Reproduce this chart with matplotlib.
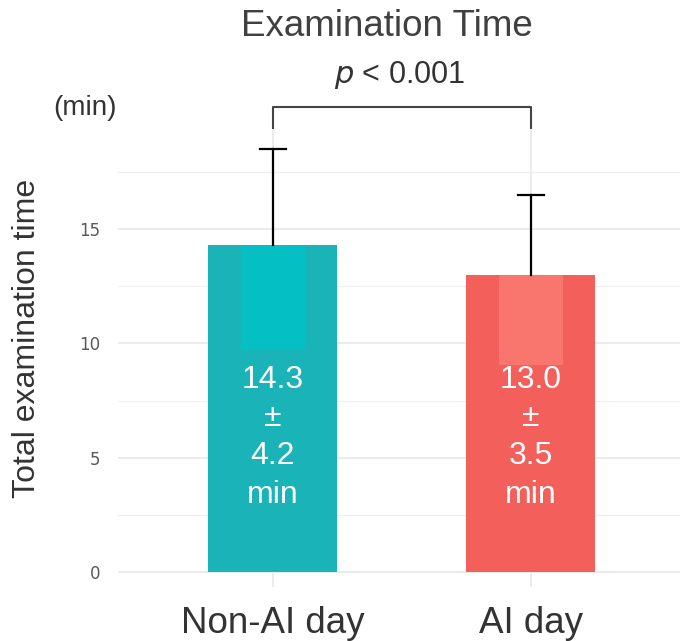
import matplotlib.pyplot as plt

plt.rcParams['font.family'] = ['Liberation Sans', 'DejaVu Sans']

# data
groups = ['Non-AI day', 'AI day']
means = [14.3, 13.0]
sds = [4.2, 3.5]
label_box_bottom = [9.7, 9.05]
bar_colors = ['#1AB3B7', '#F35F5B']
box_colors = ['#04BFC4', '#F8766D']
p_label = '< 0.001'

fig = plt.figure(figsize=(6.8, 6.41), dpi=100)
ax = fig.add_axes([118 / 680, 54 / 641, 562 / 680, 457 / 641])

x = [1, 2]

# grid like a minimal theme
for v in [2.5, 7.5, 12.5, 17.5]:
    ax.axhline(v, color='#F0F0F0', lw=0.9, zorder=0)
for v in [0, 5, 10, 15]:
    ax.axhline(v, color='#EBEBEB', lw=1.5, zorder=0)
for v in x:
    ax.axvline(v, color='#EBEBEB', lw=1.5, zorder=0)

ax.bar(x, means, width=0.5, color=bar_colors, zorder=2)
ax.bar(x, [m - b for m, b in zip(means, label_box_bottom)], width=0.25,
       bottom=label_box_bottom, color=box_colors, zorder=2)

# upper error bars only
for xi, m, s in zip(x, means, sds):
    ax.plot([xi, xi], [m, m + s], color='black', lw=1.6, zorder=3)
    ax.plot([xi - 0.05, xi + 0.05], [m + s, m + s], color='black', lw=1.6, zorder=3)
    ax.text(xi, 5.9, f'{m:.1f}\n±\n{s:.1f}\nmin', color='white', fontsize=23,
            ha='center', va='center', linespacing=1.36, zorder=4)

# significance bracket
ax.plot([1, 1, 2, 2], [19.41, 20.33, 20.33, 19.41], color='#444444', lw=1.5,
        clip_on=False, zorder=3)

ax.set_xlim(0.4, 2.578)
ax.set_ylim(-0.64, 19.32)
ax.set_xticks(x)
ax.set_xticklabels(groups, fontsize=26.5, color='#333333')
ax.set_yticks([0, 5, 10, 15])
ax.set_yticklabels(['0', '5', '10', '15'], fontsize=12, color='#595959',
                   family='DejaVu Sans')
ax.tick_params(axis='x', length=0, pad=14)
ax.tick_params(axis='y', length=0, pad=13)
for sp in ax.spines.values():
    sp.set_visible(False)

fig.text(387 / 680, 1 - 36 / 641, 'Examination Time', fontsize=26.5,
         color='#404040', ha='center', va='baseline')
fig.text(400 / 680, 1 - 83 / 641, r'$\it{p}$ ' + p_label, fontsize=22,
         color='#333333', ha='center', va='baseline')
fig.text(85 / 680, 1 - 108 / 641, '(min)', fontsize=20, color='#333333',
         ha='center', va='center')
fig.text(27 / 680, 1 - 338 / 641, 'Total examination time', fontsize=23,
         color='#333333', ha='center', va='center', rotation=90)

fig.savefig('out.png', dpi=100)
